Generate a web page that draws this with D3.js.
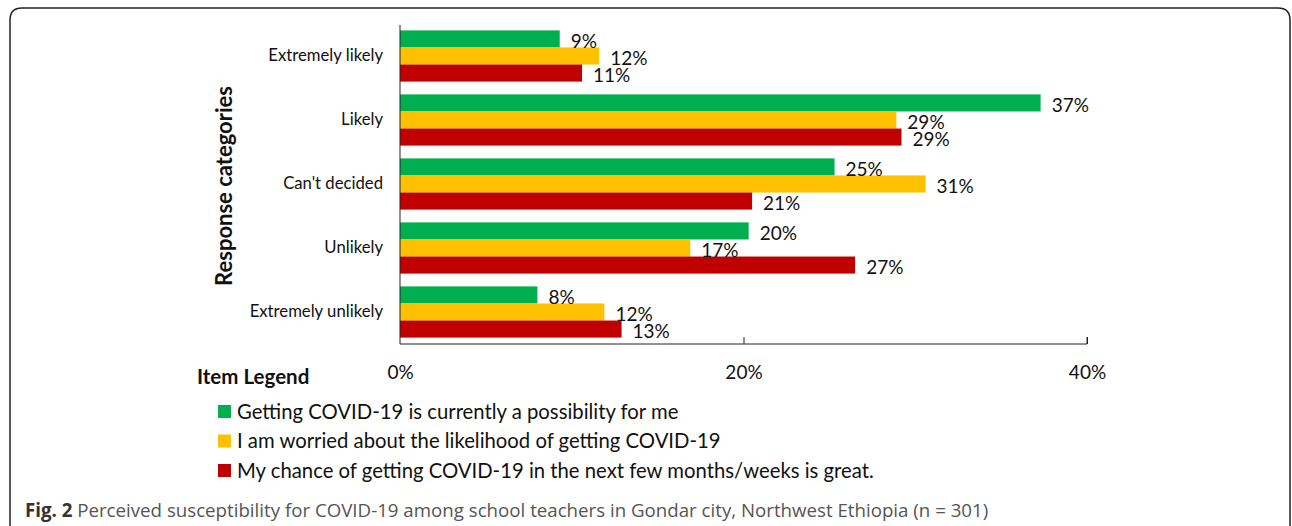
<!DOCTYPE html>
<html>
<head>
<meta charset="utf-8">
<script src="https://cdn.jsdelivr.net/npm/d3@7"></script>
<style>
  body { margin: 0; background: #fff; }
  svg text { font-family: Lato, "Open Sans", sans-serif; }
  svg text.caption { font-family: "Open Sans", sans-serif; }
</style>
</head>
<body>
<div id="chart"></div>
<script>
// categories, top to bottom
var categories = ["Extremely likely", "Likely", "Can't decided", "Unlikely", "Extremely unlikely"];
var seriesNames = [
  "Getting COVID-19 is currently a possibility for me",
  "I am worried about the likelihood of getting COVID-19",
  "My chance of getting COVID-19 in the next few months/weeks is great."
];
var seriesColors = ["#00b050", "#ffc000", "#c00000"];
// percent values
var possibility = [9.3, 37.3, 25.3, 20.3, 8.0];
var worried = [11.6, 28.9, 30.6, 16.9, 11.9];
var chance = [10.6, 29.2, 20.5, 26.5, 12.9];
var xTicks = [0, 20, 40];

var W = 1292, H = 526;
var svg = d3.select("#chart").append("svg")
  .attr("width", W).attr("height", H);

// frame, only top-left corner and top edge are visible
svg.append("path")
  .attr("d", "M10,530 L10,20 Q10,8 22,8 L1278,8 Q1290,8 1290,20 L1290,530")
  .attr("fill", "none").attr("stroke", "#222").attr("stroke-width", 1.5);

var x = d3.scaleLinear().domain([0, 40]).range([400, 1087]);
var y = d3.scaleBand().domain(categories).range([24, 344]).paddingInner(0.2).paddingOuter(0.1);
var inner = d3.scaleBand().domain([0, 1, 2]).range([0, y.bandwidth()]);

var rows = [];
var allSeries = [possibility, worried, chance];
categories.forEach(function(c, i) {
  allSeries.forEach(function(s, j) {
    rows.push({ cat: c, series: j, value: s[i] });
  });
});

svg.selectAll("rect.bar")
  .data(rows)
  .enter().append("rect")
  .attr("class", "bar")
  .attr("x", x(0))
  .attr("y", function(d) { return y(d.cat) + inner(d.series); })
  .attr("width", function(d) { return x(d.value) - x(0); })
  .attr("height", inner.bandwidth())
  .attr("fill", function(d) { return seriesColors[d.series]; });

svg.selectAll("text.val")
  .data(rows)
  .enter().append("text")
  .attr("class", "val")
  .attr("x", function(d) { return x(d.value) + 11; })
  .attr("y", function(d) { return y(d.cat) + inner(d.series) + inner.bandwidth() / 2 + 9; })
  .attr("font-size", 19)
  .attr("fill", "#111")
  .text(function(d) { return Math.round(d.value) + "%"; });

// x axis
var xAxis = d3.axisBottom(x).tickValues(xTicks).tickSize(-7).tickPadding(22)
  .tickFormat(function(d) { return d + "%"; });
var gx = svg.append("g").attr("transform", "translate(0,344)").call(xAxis);
gx.select(".domain").attr("d", "M" + x(0) + ",0H" + x(40) + "V-7").attr("stroke", "#222");
gx.selectAll(".tick line").attr("stroke", "#222");
gx.selectAll(".tick").filter(function(d) { return d == 0; }).select("line").remove();
gx.selectAll(".tick text").attr("font-size", 19).attr("fill", "#111");

// y axis
var yAxis = d3.axisLeft(y).tickSize(0).tickPadding(17);
var gy = svg.append("g").attr("transform", "translate(" + x(0) + ",0)").call(yAxis);
gy.select(".domain").attr("d", "M0,25V344").attr("stroke", "#222");
gy.selectAll(".tick text").attr("font-size", 16.7).attr("fill", "#111");

svg.append("text")
  .attr("transform", "translate(232,186) rotate(-90)")
  .attr("text-anchor", "middle")
  .attr("font-size", 22).attr("font-weight", "bold").attr("fill", "#111")
  .text("Response categories");

// legend
svg.append("text")
  .attr("x", 197).attr("y", 384)
  .attr("font-size", 20.5).attr("font-weight", "bold").attr("fill", "#111")
  .text("Item Legend");

var legend = svg.selectAll("g.leg")
  .data(seriesNames)
  .enter().append("g")
  .attr("class", "leg")
  .attr("transform", function(d, i) { return "translate(218," + (405 + i * 29.5) + ")"; });
legend.append("rect")
  .attr("width", 13).attr("height", 13)
  .attr("fill", function(d, i) { return seriesColors[i]; });
legend.append("text")
  .attr("x", 19).attr("y", 13.5)
  .attr("font-size", 20.3).attr("fill", "#111")
  .text(function(d) { return d; });

// caption
var cap = svg.append("text")
  .attr("class", "caption")
  .attr("x", 25).attr("y", 517)
  .attr("font-size", 18.7).attr("fill", "#555");
cap.append("tspan").attr("font-weight", "bold").attr("fill", "#333").text("Fig. 2");
cap.append("tspan").text(" Perceived susceptibility for COVID-19 among school teachers in Gondar city, Northwest Ethiopia (n = 301)");
</script>
</body>
</html>
